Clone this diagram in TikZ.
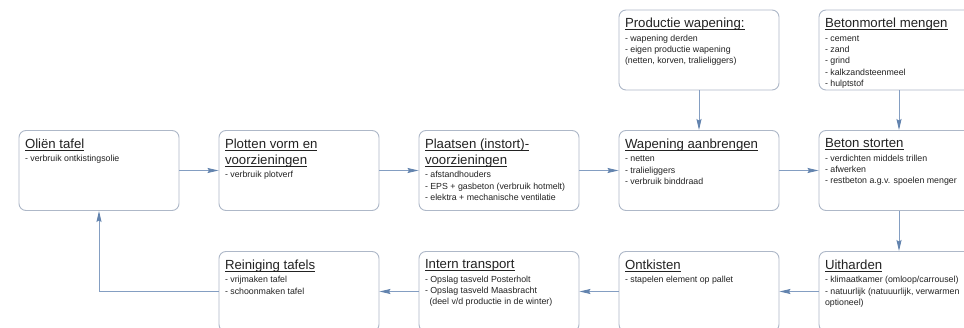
\documentclass[tikz,border=0pt]{standalone}
\usepackage{fontspec}
\setmainfont{Liberation Sans}
\usetikzlibrary{arrows.meta}
\definecolor{cRand}{HTML}{AEB8C8}
\definecolor{cPijl}{HTML}{849EC2}
\definecolor{cKop}{HTML}{6283AE}
\definecolor{cTekst}{HTML}{222222}
\tikzset{
    box/.style  ={draw=cRand, line width=0.9pt, rounded corners=7pt, fill=white,
                  text=cTekst, inner xsep=6pt, inner ysep=0pt,
                  minimum width=160pt, minimum height=80pt},
    pijl/.style ={-{Stealth[length=11pt, width=5pt, inset=1.5pt, color=cKop]},
                  line width=0.9pt, cPijl},
}
\newcommand{\kop}[1]{\leavevmode\setbox0\hbox{#1}\rlap{\rule[-2pt]{\wd0}{0.7pt}}\box0}
\newcommand{\stap}[2]{\parbox[c][80pt][t]{148pt}{\raggedright\vspace*{8.4pt}%
    {\fontsize{13.2}{16}\selectfont #1\par}\vspace{2pt}%
    {\fontsize{8.8}{11.3}\selectfont #2\par}}}

\begin{document}
\begin{tikzpicture}[x=1pt, y=-1pt]
\path[use as bounding box, fill=white] (0,0) rectangle (964,328);

% ===================== Bovenste rij: toelevering =====================
\node[box] (prod) at (699,50)
     {\stap{\kop{Productie wapening:}}
      {- wapening derden\\- eigen productie wapening\\(netten, korven, tralieliggers)}};
\node[box] (mortel) at (899,50)
     {\stap{\kop{Betonmortel mengen}}
      {- cement\\- zand\\- grind\\- kalkzandsteenmeel\\- hulptstof}};

% ===================== Middelste rij =====================
\node[box] (olie) at (99,170.5)
     {\stap{\kop{Oliën tafel}}{- verbruik ontkistingsolie}};
\node[box] (plot) at (299,170.5)
     {\stap{\kop{Plotten vorm en}\\\kop{voorzieningen}}{- verbruik plotverf}};
\node[box] (plaats) at (499,170.5)
     {\stap{\kop{Plaatsen (instort)-}\\\kop{voorzieningen}}
      {- afstandhouders\\- EPS + gasbeton (verbruik hotmelt)\\- elektra + mechanische ventilatie}};
\node[box] (wap) at (699,170.5)
     {\stap{\kop{Wapening aanbrengen}}
      {- netten\\- tralieliggers\\- verbruik binddraad}};
\node[box] (storten) at (899,170.5)
     {\stap{\kop{Beton storten}}
      {- verdichten middels trillen\\- afwerken\\- restbeton a.g.v. spoelen menger}};

% ===================== Onderste rij =====================
\node[box] (uithard) at (899,291.5)
     {\stap{\kop{Uitharden}}
      {- klimaatkamer (omloop/carrousel)\\- natuurlijk (natuuurlijk, verwarmen\\optioneel)}};
\node[box] (ontkist) at (699,291.5)
     {\stap{\kop{Ontkisten}}{- stapelen element op pallet}};
\node[box] (intern) at (499,291.5)
     {\stap{\kop{Intern transport}}
      {- Opslag tasveld Posterholt\\- Opslag tasveld Maasbracht\\
       \hspace*{4.5pt}(deel v/d productie in de winter)}};
\node[box] (reinig) at (299,291.5)
     {\stap{\kop{Reiniging tafels}}{- vrijmaken tafel\\- schoonmaken tafel}};

% ===================== Verbindingen =====================
\draw[pijl] (olie) -- (plot);
\draw[pijl] (plot) -- (plaats);
\draw[pijl] (plaats) -- (wap);
\draw[pijl] (wap) -- (storten);
\draw[pijl] (prod) -- (wap);
\draw[pijl] (mortel) -- (storten);
\draw[pijl] (storten) -- (uithard);
\draw[pijl] (uithard) -- (ontkist);
\draw[pijl] (ontkist) -- (intern);
\draw[pijl] (intern) -- (reinig);
\draw[pijl] (reinig.west) -| (olie.south);

\end{tikzpicture}
\end{document}
